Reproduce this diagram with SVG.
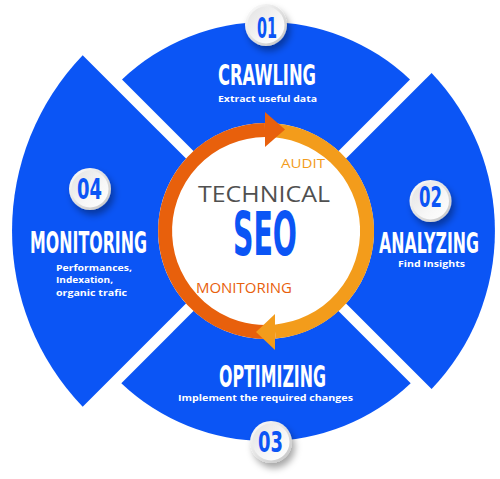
<svg xmlns="http://www.w3.org/2000/svg" width="500" height="479" viewBox="0 0 500 479">
<defs>
<style>
.seg{fill:#0B55F5}
.title{font-family:"Liberation Sans Narrow","DejaVu Sans Condensed","Liberation Sans",sans-serif;font-weight:bold;fill:#ffffff}
.sub{font-family:"Open Sans","Noto Sans","Liberation Sans",sans-serif;font-weight:bold;fill:#ffffff}
.num{font-family:"Liberation Sans Narrow","DejaVu Sans Condensed","Liberation Sans",sans-serif;font-weight:bold;fill:#0B55F5;font-size:28px}
.inner{font-family:"Open Sans","Noto Sans","Liberation Sans",sans-serif}
</style>
<linearGradient id="bOuter" x1="0" y1="0" x2="1" y2="1">
<stop offset="0" stop-color="#ffffff"/>
<stop offset="1" stop-color="#c4c4c4"/>
</linearGradient>
<linearGradient id="bInner" x1="0" y1="0" x2="1" y2="1">
<stop offset="0" stop-color="#e2e2e2"/>
<stop offset="0.6" stop-color="#f7f7f7"/>
<stop offset="1" stop-color="#ffffff"/>
</linearGradient>
<filter id="shadow" x="-50%" y="-50%" width="200%" height="200%">
<feDropShadow dx="3" dy="5" stdDeviation="3.5" flood-color="#000" flood-opacity="0.35"/>
</filter>
<g id="badge">
<circle r="21" fill="url(#bOuter)" filter="url(#shadow)"/>
<circle r="18.5" fill="url(#bInner)"/>
</g>
</defs>
<rect width="500" height="479" fill="#ffffff"/>

<g id="crawling">
<path class="seg" d="M266,223.5 L122,79.5 A209,209 0 0 1 410,79.5 Z"/>
<use href="#badge" x="266" y="25"/>
<text class="num" x="257" y="38" textLength="20" lengthAdjust="spacingAndGlyphs">01</text>
<text class="title" x="218" y="85" font-size="28" textLength="98" lengthAdjust="spacingAndGlyphs">CRAWLING</text>
<text class="sub" x="218" y="101.5" font-size="9.5" textLength="99" lengthAdjust="spacingAndGlyphs">Extract useful data</text>
</g>

<g id="analyzing">
<path class="seg" d="M273.5,231 L431.6,72.9 A229,229 0 0 1 431.6,389.1 Z"/>
<use href="#badge" x="430.5" y="201"/>
<text class="num" x="419" y="207" textLength="23" lengthAdjust="spacingAndGlyphs">02</text>
<text class="title" x="379" y="252.5" font-size="28" textLength="100" lengthAdjust="spacingAndGlyphs">ANALYZING</text>
<text class="sub" x="398" y="266.5" font-size="9.5" textLength="67" lengthAdjust="spacingAndGlyphs">Find Insights</text>
</g>

<g id="optimizing">
<path class="seg" d="M266,238.5 L410.7,383.2 A210,210 0 0 1 121.3,383.2 Z"/>
<use href="#badge" x="271" y="442"/>
<text class="num" x="258" y="452" textLength="25" lengthAdjust="spacingAndGlyphs">03</text>
<text class="title" x="219" y="387" font-size="30" textLength="107" lengthAdjust="spacingAndGlyphs">OPTIMIZING</text>
<text class="sub" x="178" y="401" font-size="9.5" textLength="175" lengthAdjust="spacingAndGlyphs">Implement the required changes</text>
</g>

<g id="monitoring">
<path class="seg" d="M258.5,231 L82.7,406.8 A254,254 0 0 1 82.7,55.2 Z"/>
<use href="#badge" x="90" y="189"/>
<text class="num" x="77" y="199" textLength="25" lengthAdjust="spacingAndGlyphs">04</text>
<text class="title" x="30" y="253" font-size="30" textLength="117" lengthAdjust="spacingAndGlyphs">MONITORING</text>
<text class="sub" x="56" y="270.5" font-size="9.5" textLength="76" lengthAdjust="spacingAndGlyphs">Performances,</text>
<text class="sub" x="56" y="283" font-size="9.5" textLength="57" lengthAdjust="spacingAndGlyphs">Indexation,</text>
<text class="sub" x="56" y="295.5" font-size="9.5" textLength="71" lengthAdjust="spacingAndGlyphs">organic trafic</text>
</g>

<g id="center">
<circle cx="266" cy="231" r="108" fill="#ffffff"/>
<text class="inner" x="281" y="168" font-size="12.5" fill="#F39C1B" textLength="44" lengthAdjust="spacingAndGlyphs">AUDIT</text>
<text class="inner" x="198" y="201.5" font-size="22" fill="#505050" textLength="132" lengthAdjust="spacingAndGlyphs">TECHNICAL</text>
<text class="title" x="233" y="255" font-size="60" fill="#0B55F5" style="fill:#0B55F5" textLength="64" lengthAdjust="spacingAndGlyphs">SEO</text>
<text class="inner" x="196" y="293" font-size="14" fill="#E8600C" textLength="96" lengthAdjust="spacingAndGlyphs">MONITORING</text>
</g>

<g id="connectors" fill="none" stroke-width="14">
<path d="M275,331.6 A101,101 0 1 1 265,130" stroke="#E8600C"/>
<path d="M265,130 A101,101 0 0 1 275,331.6" stroke="#F39C1B"/>
<polygon points="265,112 265,147 285,129.5" fill="#E8600C" stroke="none"/>
<polygon points="275,314 275,350 256,332" fill="#F39C1B" stroke="none"/>
</g>
</svg>
